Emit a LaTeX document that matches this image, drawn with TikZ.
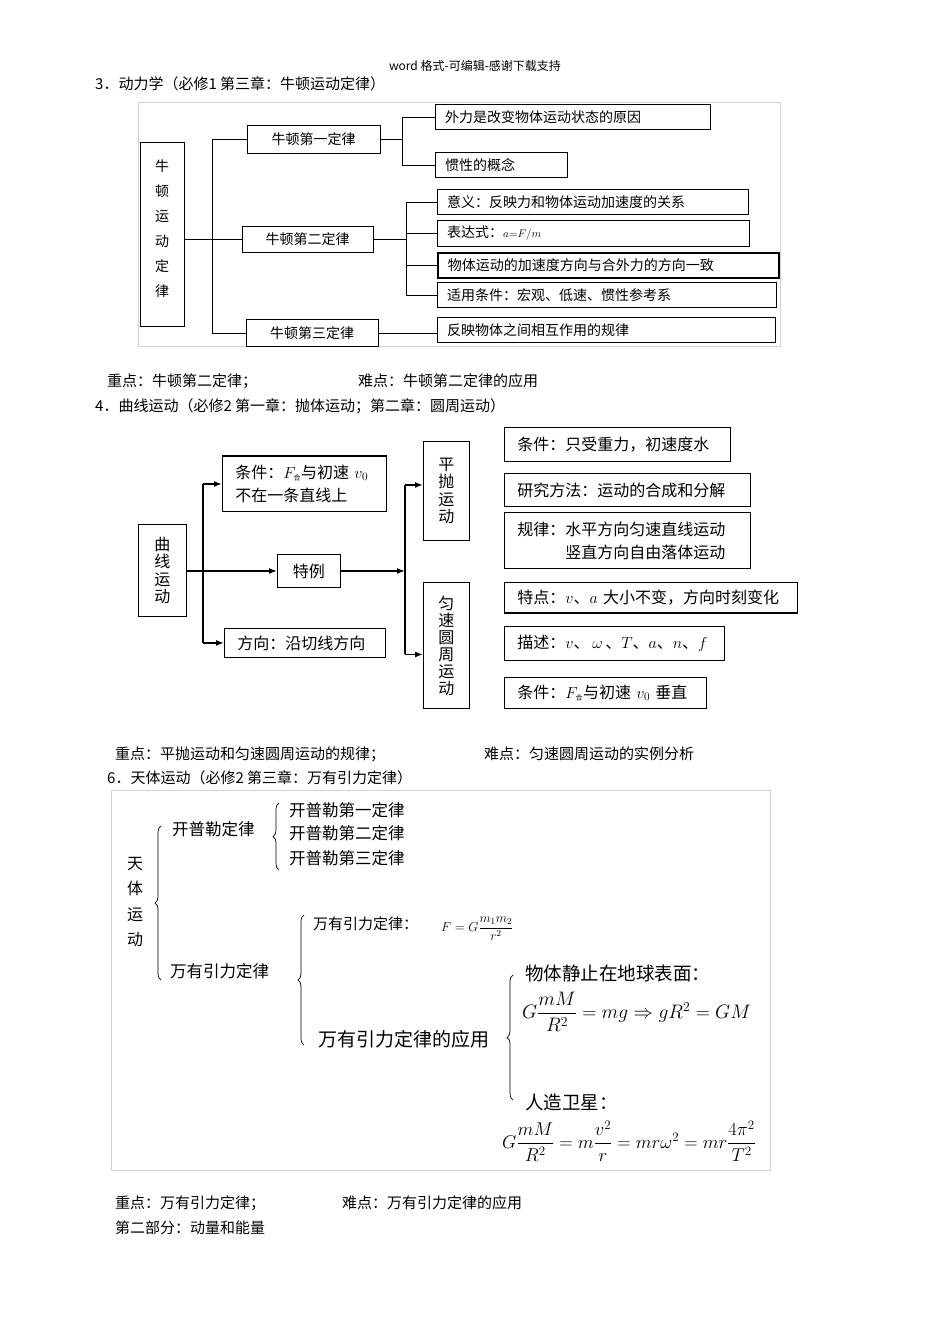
\RequirePackage{fix-cm}
\documentclass[tikz,border=0pt]{standalone}
\usepackage{fontspec}
\usepackage{amsmath}
\setmainfont{Noto Sans CJK SC}
\usetikzlibrary{arrows.meta,decorations.pathreplacing}

\begin{document}
\begin{tikzpicture}[x=1pt, y=-1pt,
    txt/.style={anchor=west, inner sep=0pt, font=\fontsize{15}{18}\selectfont},
    box/.style={draw, rectangle, anchor=north west, inner sep=0pt, font=\fontsize{14}{16}\selectfont},
    lbox/.style={box, inner xsep=10pt, align=left},
    cbox/.style={draw, rectangle, anchor=north west, inner sep=0pt, line width=0.9pt, font=\fontsize{16}{23}\selectfont},
    clbox/.style={cbox, inner xsep=13pt, align=left},
    vbox/.style={draw, rectangle, anchor=north west, inner sep=0pt, align=center},
    arr/.style={line width=1.4pt, -{Latex[length=8pt,width=6pt]}},
    ln/.style={line width=1.4pt},
    frm/.style={draw=gray!35, line width=0.8pt},
    brc/.style={decorate, decoration={brace, amplitude=6pt}, line width=0.7pt},
    big/.style={anchor=west, inner sep=0pt, font=\fontsize{16.5}{20}\selectfont}
]
\useasboundingbox (0,0) rectangle (950,1344);

% page head
\node (head) [anchor=center, inner sep=0pt, font=\fontsize{12}{14}\selectfont] at (475,66) {word 格式-可编辑-感谢下载支持};
\node (t3) [txt] at (95,84) {3．动力学（必修1 第三章：牛顿运动定律）};

% ---- dynamics ----
\draw[frm] (138,102) rectangle (780,346);
\node (nd) [vbox, minimum width=44, minimum height=184, font=\fontsize{14}{25}\selectfont] at (140,142) {牛\\顿\\运\\动\\定\\律\\[-12pt]};
\node (law1) [box, minimum width=133, minimum height=28] at (247,125) {牛顿第一定律};
\node (law2) [box, minimum width=131, minimum height=26] at (242,226) {牛顿第二定律};
\node (law3) [box, minimum width=132, minimum height=27] at (246,319) {牛顿第三定律};
\node (r1) [lbox, text width=255, minimum height=25] at (435,104) {外力是改变物体运动状态的原因};
\node (r2) [lbox, text width=112, minimum height=25] at (435,152) {惯性的概念};
\node (r3) [lbox, text width=291, minimum height=25] at (437,189) {意义：反映力和物体运动加速度的关系};
\node (r4) [lbox, text width=292, minimum height=26] at (437,220) {表达式：{\fontsize{11}{12}\selectfont$a{=}F/m$}};
\node (r5) [lbox, text width=321, minimum height=25, line width=1.5pt] at (437,252) {物体运动的加速度方向与合外力的方向一致};
\node (r6) [lbox, text width=319, minimum height=25] at (437,282) {适用条件：宏观、低速、惯性参考系};
\node (r7) [lbox, text width=318, minimum height=25] at (437,317) {反映物体之间相互作用的规律};

\coordinate (ja) at (212,0);
\coordinate (jb) at (402,0);
\coordinate (jc) at (406,0);
\draw (nd.east |- law2.west) -- (law2.west);
\draw (law1.west) -- (law1.west -| ja) -- (law3.west -| ja) -- (law3.west);
\draw[line width=1.4pt] (law1.east) -- (law1.east -| jb);
\draw (r1.west) -- (r1.west -| jb) -- (r2.west -| jb) -- (r2.west);
\draw (law2.east) -- (law2.east -| jc);
\draw (r3.west) -- (r3.west -| jc) -- (r6.west -| jc) -- (r6.west);
\draw (r4.west -| jc) -- (r4.west);
\draw[line width=1.4pt] (r5.west -| jc) -- (r5.west);
\draw (law3.east) -- (law3.east -| r7.west);

\node (k1) [txt] at (107,381) {重点：牛顿第二定律；};
\node (d1) [txt] at (358,381) {难点：牛顿第二定律的应用};
\node (t4) [txt] at (95,406) {4．曲线运动（必修2 第一章：抛体运动；第二章：圆周运动）};

% ---- curvilinear motion ----
\node (cx) [vbox, line width=0.9pt, minimum width=48, minimum height=92, font=\fontsize{16}{17.5}\selectfont] at (138,524) {曲\\线\\运\\动};
\node (c1) [clbox, text width=138, minimum height=55] at (222,456) {条件：$F_{\text{\fontsize{7}{8}\selectfont 合}}$与初速 $v_0$\\不在一条直线上};
\draw[line width=1.8pt] (c1.north west) -- (c1.north east);
\node (sp) [cbox, minimum width=63, minimum height=33] at (277,554) {特例};
\node (dir) [clbox, text width=135, minimum height=29] at (224,628) {方向：沿切线方向};
\node (pp) [vbox, line width=0.9pt, minimum width=46, minimum height=99, font=\fontsize{16}{17.5}\selectfont] at (423,441) {平\\抛\\运\\动};
\node (yz) [vbox, line width=0.9pt, minimum width=46, minimum height=126, font=\fontsize{16}{17}\selectfont] at (423,582) {匀\\速\\圆\\周\\运\\动};
\node (s1) [clbox, text width=200, minimum height=34] at (504,427) {条件：只受重力，初速度水};
\node (s2) [clbox, text width=220, minimum height=33] at (504,473) {研究方法：运动的合成和分解};
\node (s3) [clbox, text width=220, minimum height=56] at (504,512) {规律：水平方向匀速直线运动\\\hspace*{3em}竖直方向自由落体运动};
\node (s4) [clbox, text width=267, minimum height=30] at (504,582) {特点：$v$、$a$ 大小不变，方向时刻变化};
\draw[line width=1.8pt] (s4.south west) -- (s4.south east);
\node (s5) [clbox, text width=194, minimum height=34] at (504,626) {\mbox{描述：$v$、\,$\omega$\,、$T$、$a$、$n$、$f$}};
\node (s6) [clbox, text width=176, minimum height=31] at (504,677) {条件：$F_{\text{\fontsize{7}{8}\selectfont 合}}$与初速 $v_0$ 垂直};

\coordinate (jd) at (203,0);
\coordinate (je) at (405,0);
\draw[arr] (cx.east |- sp.west) -- (sp.west);
\draw[ln] (c1.west -| jd) -- (dir.west -| jd);
\draw[arr] (c1.west -| jd) -- (c1.west);
\draw[arr] (dir.west -| jd) -- (dir.west);
\draw[arr] (sp.east) -- (sp.east -| je);
\draw[ln] ([yshift=6pt]pp.west -| je) -- ([yshift=-9pt]yz.west -| je);
\draw[arr] ([yshift=6pt]pp.west -| je) -- ([yshift=6pt]pp.west);
\draw[arr] ([yshift=-9pt]yz.west -| je) -- ([yshift=-9pt]yz.west);

\node (k2) [txt] at (115,754) {重点：平抛运动和匀速圆周运动的规律；};
\node (d2) [txt] at (484,754) {难点：匀速圆周运动的实例分析};
\node (t6) [txt] at (107,778) {6．天体运动（必修2 第三章：万有引力定律）};

% ---- celestial motion ----
\draw[frm] (111,790) rectangle (770,1170);
\node (ty) [anchor=center, inner sep=0pt, align=center, font=\fontsize{16}{25.3}\selectfont] at (135,902) {天\\体\\运\\动};
\draw[brc] (161,980) -- (161,826);
\node (kpl) [big] at (172,829) {开普勒定律};
\node (wyl) [big] at (170,971) {万有引力定律};
\draw[brc] (279,870) -- (279,803);
\node (kp1) [big] at (289,810) {开普勒第一定律};
\node (kp2) [big] at (289,833) {开普勒第二定律};
\node (kp3) [big] at (289,858) {开普勒第三定律};
\draw[brc] (304,1045) -- (304,915);
\node (wy1) [big, font=\fontsize{15}{18}\selectfont] at (313,924) {万有引力定律：};
\node (fm1) [anchor=west, inner sep=0pt, font=\fontsize{13}{15}\selectfont] at (441,929) {$F=G\dfrac{m_1m_2}{r^2}$};
\node (wy2) [big, font=\fontsize{19}{22}\selectfont] at (318,1039) {万有引力定律的应用};
\draw[brc] (513,1100) -- (513,975);
\node (st) [big, font=\fontsize{18.5}{22}\selectfont] at (525,973) {物体静止在地球表面：};
\node (fm2) [anchor=west, inner sep=0pt, font=\fontsize{19.5}{23}\selectfont] at (522,1012) {$G\dfrac{mM}{R^2}=mg\Rightarrow gR^2=GM$};
\node (rz) [big, font=\fontsize{18.5}{22}\selectfont] at (525,1102) {人造卫星：};
\node (fm3) [anchor=west, inner sep=0pt, font=\fontsize{18.5}{22}\selectfont] at (502,1141) {$G\dfrac{mM}{R^2}=m\dfrac{v^2}{r}=mr\omega^2=mr\dfrac{4\pi^2}{T^2}$};

\node (k3) [txt] at (115,1203) {重点：万有引力定律；};
\node (d3) [txt] at (342,1203) {难点：万有引力定律的应用};
\node (p2) [txt] at (115,1228) {第二部分：动量和能量};
\end{tikzpicture}
\end{document}
